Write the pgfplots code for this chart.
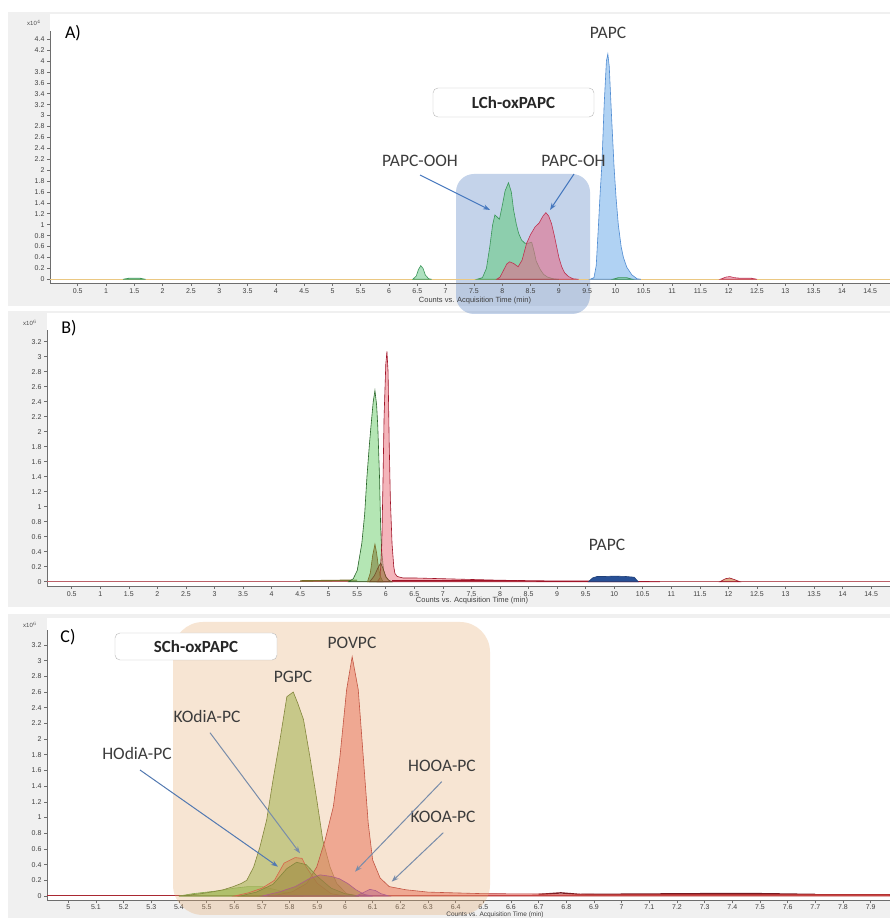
\documentclass[border=0pt]{standalone}
\usepackage{fontspec}
\setmainfont{Carlito}
\newfontfamily\tickfont{Liberation Sans}
\usepackage{pgfplots}
\pgfplotsset{compat=1.18}
\usetikzlibrary{arrows.meta}

\definecolor{panelgrey}{RGB}{240,240,240}
\definecolor{axgrey}{RGB}{110,110,110}
\definecolor{annot}{RGB}{60,60,60}
\definecolor{arrA}{RGB}{70,120,190}
\definecolor{arrC}{RGB}{120,140,170}
\definecolor{Ablue}{RGB}{150,195,240}
\definecolor{Abluel}{RGB}{80,140,210}
\definecolor{Agreen}{RGB}{120,205,150}
\definecolor{Agreenl}{RGB}{60,150,90}
\definecolor{Ared}{RGB}{225,110,140}
\definecolor{Aredl}{RGB}{190,50,80}
\definecolor{Abase}{RGB}{235,200,130}
\definecolor{Bgreen}{RGB}{120,210,120}
\definecolor{Bgreenl}{RGB}{40,100,40}
\definecolor{Bred}{RGB}{235,120,130}
\definecolor{Bredl}{RGB}{160,20,40}
\definecolor{Bolive}{RGB}{120,110,40}
\definecolor{Bbrown}{RGB}{160,110,60}
\definecolor{Bblue}{RGB}{40,80,150}
\definecolor{Cgreen}{RGB}{140,185,80}
\definecolor{Cgreenl}{RGB}{90,120,40}
\definecolor{Cred}{RGB}{235,110,100}
\definecolor{Credl}{RGB}{180,50,50}
\definecolor{Corange}{RGB}{200,120,60}
\definecolor{Corangel}{RGB}{210,70,60}
\definecolor{Colive}{RGB}{110,140,50}
\definecolor{Cpurple}{RGB}{150,60,150}
\definecolor{Cbrown}{RGB}{130,100,50}
\definecolor{Clight}{RGB}{120,210,80}
\definecolor{Cbase}{RGB}{170,40,50}
\definecolor{boxblue}{RGB}{100,140,200}
\definecolor{boxorange}{RGB}{230,170,110}

\pgfplotsset{chrom/.style={
  scale only axis, axis x line=bottom, axis y line=left,
  axis line style={draw=axgrey, line width=0.8pt, -},
  tick style={draw=axgrey, line width=0.6pt}, tick align=outside,
  major tick length=3pt,
  tick label style={font=\tickfont\fontsize{7}{8}\selectfont, text=black!75},
  /pgf/number format/assume math mode=true,
  xticklabel style={yshift=1pt}, yticklabel style={xshift=1pt},
  every axis plot/.append style={line width=0.6pt},
}}

\begin{document}
\begin{tikzpicture}[x=1pt,y=1pt]
% panels
\fill[panelgrey] (8,612) rectangle (890,906);
\fill[panelgrey] (8,311) rectangle (890,607);
\fill[panelgrey] (8,0) rectangle (890,304);
\fill[white] (50,635) rectangle (890,904);
\fill[white] (47,332) rectangle (890,605);
\fill[white] (47,17.5) rectangle (890,300);
% LCh region box (behind the peaks)
\fill[boxblue, opacity=0.38, rounded corners=18pt] (456,604) rectangle (590,744);

% ---------------- Panel A ----------------
\begin{axis}[chrom, at={(50pt,635pt)}, anchor=south west, width=840pt, height=252pt,
  xmin=0.01, xmax=14.85, ymin=-0.068, ymax=4.55,
  xtick={0.5,1,1.5,2,2.5,3,3.5,4,4.5,5,5.5,6,6.5,7,7.5,8,8.5,9,9.5,10,10.5,11,11.5,12,12.5,13,13.5,14,14.5},
  ytick={0,0.2,0.4,0.6,0.8,1,1.2,1.4,1.6,1.8,2,2.2,2.4,2.6,2.8,3,3.2,3.4,3.6,3.8,4,4.2,4.4}]
\addplot[Abase, line width=1.2pt] coordinates {(0.01,0) (14.85,0)};
\addplot[fill=Agreen, fill opacity=0.6, draw=Agreenl] coordinates {(1.3,0) (1.4,0.02) (1.6,0.02) (1.7,0)} \closedcycle;
\addplot[fill=Agreen, fill opacity=0.6, draw=Agreenl] coordinates {(6.42,0) (6.48,0.06) (6.52,0.18) (6.56,0.25) (6.60,0.2) (6.64,0.08) (6.70,0.01) (6.75,0)} \closedcycle;
\addplot[fill=Agreen, fill opacity=0.72, draw=Agreenl] coordinates {(7.55,0) (7.65,0.03) (7.72,0.2) (7.78,0.6) (7.83,1.0) (7.87,1.18) (7.91,1.14) (7.95,1.10) (8.0,1.35) (8.05,1.62) (8.11,1.77) (8.16,1.6) (8.20,1.27) (8.25,1.0) (8.29,0.84) (8.34,0.72) (8.40,0.66) (8.46,0.66) (8.52,0.68) (8.56,0.52) (8.60,0.33) (8.67,0.18) (8.73,0.09) (8.80,0.04) (8.9,0.01) (9.0,0)} \closedcycle;
\addplot[fill=Ared, fill opacity=0.6, draw=Aredl] coordinates {(7.9,0) (7.96,0.04) (8.02,0.16) (8.08,0.28) (8.13,0.32) (8.20,0.29) (8.28,0.23) (8.35,0.35) (8.43,0.66) (8.50,0.82) (8.58,0.96) (8.65,1.03) (8.72,1.16) (8.77,1.22) (8.82,1.16) (8.87,1.02) (8.92,0.8) (8.96,0.6) (9.0,0.40) (9.05,0.23) (9.10,0.12) (9.17,0.05) (9.25,0.01) (9.35,0)} \closedcycle;
\addplot[fill=Ablue, fill opacity=0.75, draw=Abluel] coordinates {(9.55,0) (9.62,0.03) (9.66,0.25) (9.70,1.0) (9.73,1.6) (9.76,2.1) (9.80,3.2) (9.84,4.0) (9.865,4.13) (9.89,3.9) (9.93,3.0) (9.975,2.06) (10.01,1.5) (10.05,1.0) (10.1,0.6) (10.14,0.4) (10.2,0.22) (10.29,0.08) (10.38,0.01) (10.45,0)} \closedcycle;
\addplot[fill=Agreen, fill opacity=0.6, draw=Agreenl] coordinates {(9.95,0) (10.05,0.03) (10.2,0.03) (10.3,0)} \closedcycle;
\addplot[fill=Ared, fill opacity=0.6, draw=Aredl] coordinates {(11.85,0) (11.95,0.04) (12.02,0.05) (12.1,0.03) (12.2,0.02) (12.4,0.02) (12.5,0)} \closedcycle;
\end{axis}

% ---------------- Panel B ----------------
\begin{axis}[chrom, at={(47pt,332pt)}, anchor=south west, width=843pt, height=256pt,
  xmin=0.067, xmax=14.83, ymin=-0.057, ymax=3.356,
  xtick={0.5,1,1.5,2,2.5,3,3.5,4,4.5,5,5.5,6,6.5,7,7.5,8,8.5,9,9.5,10,10.5,11,11.5,12,12.5,13,13.5,14,14.5},
  ytick={0,0.2,0.4,0.6,0.8,1,1.2,1.4,1.6,1.8,2,2.2,2.4,2.6,2.8,3,3.2}]
\addplot[Bred!80!black, line width=1pt] coordinates {(0.067,0) (14.83,0)};
\addplot[Bolive, line width=1.4pt] coordinates {(4.5,0.01) (5.5,0.02)};
\addplot[fill=Bgreen, fill opacity=0.55, draw=Bgreenl] coordinates {(5.35,0) (5.43,0.04) (5.5,0.15) (5.58,0.51) (5.63,0.9) (5.67,1.4) (5.71,1.8) (5.74,2.07) (5.78,2.4) (5.81,2.55) (5.84,2.35) (5.86,2.07) (5.89,1.4) (5.91,0.73) (5.93,0.4) (5.96,0.16) (6.0,0.06) (6.05,0.02) (6.1,0)} \closedcycle;
\addplot[fill=Bred, fill opacity=0.55, draw=Bredl] coordinates {(5.85,0) (5.9,0.05) (5.93,0.5) (5.95,1.3) (5.97,2.2) (6.0,2.9) (6.02,3.07) (6.04,2.8) (6.06,1.84) (6.08,1.1) (6.11,0.5) (6.14,0.2) (6.16,0.11) (6.2,0.07) (6.3,0.05) (6.5,0.05) (7.0,0.04) (7.5,0.03) (8.0,0.02) (9.0,0.01) (10.0,0.01) (10.8,0)} \closedcycle;
\addplot[fill=Bolive, fill opacity=0.5, draw=Bolive] coordinates {(5.68,0) (5.73,0.12) (5.77,0.35) (5.81,0.5) (5.84,0.38) (5.87,0.2) (5.9,0.08) (5.95,0)} \closedcycle;
\addplot[fill=Bbrown, fill opacity=0.5, draw=Bbrown!70!black] coordinates {(5.72,0) (5.8,0.08) (5.86,0.18) (5.91,0.25) (5.95,0.18) (6.0,0.07) (6.05,0.02) (6.1,0)} \closedcycle;
\addplot[Bredl, line width=1.4pt] coordinates {(6.1,0.015) (8.3,0.015)};
\addplot[fill=Bblue, draw=Bblue!80!black] coordinates {(9.55,0) (9.62,0.05) (9.7,0.07) (9.85,0.07) (10.0,0.075) (10.2,0.07) (10.35,0.06) (10.42,0)} \closedcycle;
\addplot[fill=Corange, fill opacity=0.6, draw=Bredl] coordinates {(11.85,0) (11.95,0.04) (12.02,0.05) (12.1,0.03) (12.2,0)} \closedcycle;
\end{axis}

% ---------------- Panel C ----------------
\begin{axis}[chrom, at={(47pt,17.5pt)}, anchor=south west, width=843pt, height=270.5pt,
  xmin=4.923, xmax=7.97, ymin=-0.057, ymax=3.39,
  xticklabel style={yshift=1.5pt},
  xtick={5,5.1,5.2,5.3,5.4,5.5,5.6,5.7,5.8,5.9,6,6.1,6.2,6.3,6.4,6.5,6.6,6.7,6.8,6.9,7,7.1,7.2,7.3,7.4,7.5,7.6,7.7,7.8,7.9},
  ytick={0,0.2,0.4,0.6,0.8,1,1.2,1.4,1.6,1.8,2,2.2,2.4,2.6,2.8,3,3.2}]
\addplot[Cbase, line width=1.4pt] coordinates {(4.923,0.01) (7.97,0.01)};
\addplot[Cbase!70!black, line width=1.4pt] coordinates {(6.7,0.02) (6.78,0.04) (6.85,0.02) (7.3,0.03) (7.5,0.03) (7.7,0.02)};
\addplot[fill=Clight, fill opacity=0.6, draw=Clight!80!black] coordinates {(5.4,0) (5.45,0.03) (5.5,0.05) (5.55,0.07) (5.6,0.1) (5.65,0.12) (5.7,0.12) (5.75,0.08) (5.8,0.03) (5.85,0)} \closedcycle;
\addplot[fill=Cgreen, fill opacity=0.6, draw=Cgreenl] coordinates {(5.40,0) (5.43,0.01) (5.48,0.03) (5.524,0.055) (5.56,0.08) (5.596,0.12) (5.625,0.16) (5.645,0.2) (5.67,0.37) (5.693,0.63) (5.717,0.97) (5.74,1.48) (5.765,1.99) (5.79,2.54) (5.813,2.6) (5.83,2.45) (5.85,2.25) (5.873,1.78) (5.898,1.23) (5.92,0.71) (5.946,0.37) (5.97,0.16) (6.006,0.03) (6.05,0)} \closedcycle;
\addplot[fill=Cred, fill opacity=0.6, draw=Credl] coordinates {(5.72,0) (5.75,0.01) (5.81,0.055) (5.862,0.16) (5.898,0.37) (5.928,0.71) (5.958,1.14) (5.982,1.78) (6.006,2.63) (6.026,3.05) (6.048,2.63) (6.066,1.78) (6.084,0.93) (6.10,0.46) (6.127,0.23) (6.16,0.12) (6.22,0.08) (6.3,0.05) (6.5,0.03) (7.0,0.02) (7.97,0.02)} \closedcycle;
\addplot[fill=Corange, fill opacity=0.45, draw=Corangel] coordinates {(5.6,0) (5.65,0.04) (5.70,0.1) (5.745,0.2) (5.78,0.42) (5.82,0.49) (5.845,0.48) (5.86,0.37) (5.9,0.16) (5.95,0.03) (6.0,0)} \closedcycle;
\addplot[fill=Colive, fill opacity=0.5, draw=Cgreenl] coordinates {(5.62,0) (5.68,0.05) (5.74,0.15) (5.79,0.35) (5.825,0.43) (5.86,0.4) (5.9,0.25) (5.95,0.1) (6.0,0.03) (6.05,0)} \closedcycle;
\addplot[fill=Cbrown, fill opacity=0.5, draw=Cpurple] coordinates {(5.7,0) (5.76,0.05) (5.82,0.12) (5.87,0.22) (5.91,0.27) (5.95,0.25) (5.98,0.22) (6.01,0.16) (6.04,0.08) (6.07,0.02) (6.1,0)} \closedcycle;
\addplot[fill=Cpurple, fill opacity=0.4, draw=Cpurple] coordinates {(6.04,0) (6.07,0.05) (6.09,0.085) (6.11,0.07) (6.13,0.03) (6.16,0)} \closedcycle;
\end{axis}

% SCh region box (tinting the peaks)
\fill[boxorange, opacity=0.3, rounded corners=30pt] (173,3) rectangle (490,296);

% axis unit labels
\node[font=\tickfont\fontsize{6}{7}\selectfont, text=black!70] at (34,895) {x10$^{4}$};
\node[font=\tickfont\fontsize{6}{7}\selectfont, text=black!70] at (30,595) {x10$^{6}$};
\node[font=\tickfont\fontsize{6}{7}\selectfont, text=black!70] at (30,293) {x10$^{6}$};
\node[font=\tickfont\fontsize{7.5}{8}\selectfont, text=black!75] at (475,617) {Counts vs. Acquisition Time (min)};
\node[font=\tickfont\fontsize{7.5}{8}\selectfont, text=black!75] at (472,317) {Counts vs. Acquisition Time (min)};
\node[font=\tickfont\fontsize{6.5}{7}\selectfont, text=black!75, inner sep=0pt] at (495,2.8) {Counts vs. Acquisition Time (min)};

% panel letters
\node[font=\fontsize{18}{20}\selectfont, text=black] at (73,885) {A)};
\node[font=\fontsize{18}{20}\selectfont, text=black] at (69,590) {B)};
\node[font=\fontsize{18}{20}\selectfont, text=black] at (68,281) {C)};

% boxes
\draw[gray!55, fill=white, rounded corners=5pt] (433,801) rectangle (594,830);
\node[font=\bfseries\fontsize{17}{19}\selectfont, text=black!85] at (513.5,815.5) {LCh-oxPAPC};
\draw[gray!55, fill=white, rounded corners=5pt] (115,258) rectangle (277,285);
\node[font=\bfseries\fontsize{17}{19}\selectfont, text=black!85] at (196,271.5) {SCh-oxPAPC};

% annotations A
\node[font=\fontsize{17.5}{19}\selectfont, text=annot] at (608,885) {PAPC};
\node[font=\fontsize{17.5}{19}\selectfont, text=annot] at (420,757) {PAPC-OOH};
\node[font=\fontsize{17.5}{19}\selectfont, text=annot] at (573.5,757) {PAPC-OH};
\draw[arrA, line width=1pt, -{Stealth[length=7pt,width=5pt]}] (420,743) -- (490,708);
\draw[arrA, line width=1pt, -{Stealth[length=7pt,width=5pt]}] (574,744) -- (550,708);
% annotations B
\node[font=\fontsize{17.5}{19}\selectfont, text=annot] at (607,373) {PAPC};
% annotations C
\node[font=\fontsize{17.5}{19}\selectfont, text=annot] at (293,241) {PGPC};
\node[font=\fontsize{17.5}{19}\selectfont, text=annot] at (352,275) {POVPC};
\node[font=\fontsize{17.5}{19}\selectfont, text=annot] at (207,202) {KOdiA-PC};
\node[font=\fontsize{17.5}{19}\selectfont, text=annot] at (137,165) {HOdiA-PC};
\node[font=\fontsize{17.5}{19}\selectfont, text=annot] at (442,152) {HOOA-PC};
\node[font=\fontsize{17.5}{19}\selectfont, text=annot] at (443,101) {KOOA-PC};
\draw[arrA!80!gray, line width=1pt, -{Stealth[length=7pt,width=5pt]}] (140,148) -- (278,51.3);
\draw[arrC, line width=1pt, -{Stealth[length=7pt,width=5pt]}] (210,185.3) -- (300,64.7);
\draw[arrC, line width=1pt, -{Stealth[length=7pt,width=5pt]}] (441.7,136.3) -- (355,46.3);
\draw[arrC, line width=1pt, -{Stealth[length=7pt,width=5pt]}] (443.3,85.3) -- (391.7,36.3);

\pgfresetboundingbox
\path[use as bounding box] (0,0) rectangle (890,918);
\end{tikzpicture}
\end{document}
